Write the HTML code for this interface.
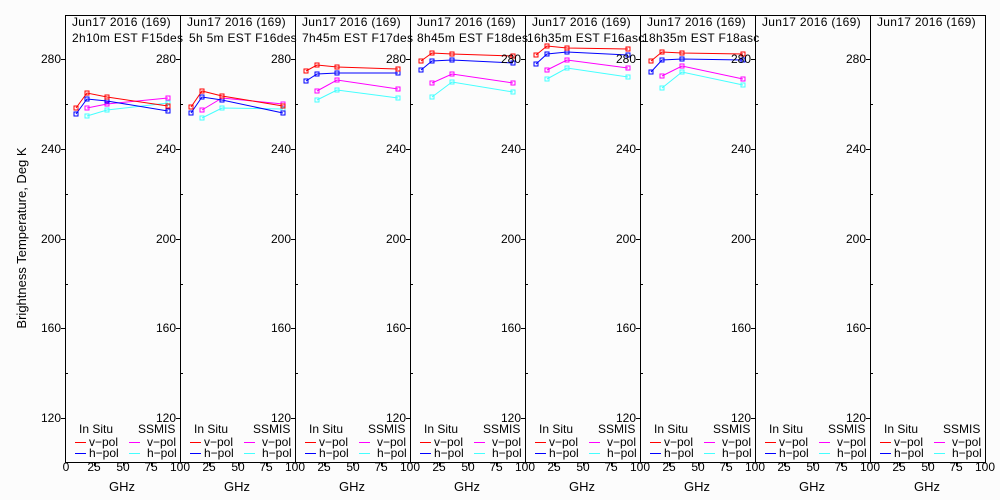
<!DOCTYPE html>
<html><head><meta charset="utf-8"><style>
body{margin:0;background:#fcfcfc;}
svg{display:block;font-family:"Liberation Sans",sans-serif;font-size:12px;}
.t{letter-spacing:0.3px}
</style></head><body>
<svg id="s" width="1000" height="500" xmlns="http://www.w3.org/2000/svg">
<rect width="1000" height="500" fill="#fcfcfc"/>
<g id="g" stroke="#000" fill="none" stroke-width="1"></g>
<g fill="#000">
<text x="26" y="238" transform="rotate(-90 26 238)" text-anchor="middle" font-size="13">Brightness Temperature, Deg K</text>
<g text-anchor="end">
<text x="61" y="63">280</text><text x="61" y="153">240</text><text x="61" y="243">200</text><text x="61" y="332">160</text><text x="61" y="422">120</text>
<text x="176" y="63">280</text><text x="176" y="153">240</text><text x="176" y="243">200</text><text x="176" y="332">160</text><text x="176" y="422">120</text>
<text x="291" y="63">280</text><text x="291" y="153">240</text><text x="291" y="243">200</text><text x="291" y="332">160</text><text x="291" y="422">120</text>
<text x="406" y="63">280</text><text x="406" y="153">240</text><text x="406" y="243">200</text><text x="406" y="332">160</text><text x="406" y="422">120</text>
<text x="521" y="63">280</text><text x="521" y="153">240</text><text x="521" y="243">200</text><text x="521" y="332">160</text><text x="521" y="422">120</text>
<text x="636" y="63">280</text><text x="636" y="153">240</text><text x="636" y="243">200</text><text x="636" y="332">160</text><text x="636" y="422">120</text>
<text x="751" y="63">280</text><text x="751" y="153">240</text><text x="751" y="243">200</text><text x="751" y="332">160</text><text x="751" y="422">120</text>
<text x="866" y="63">280</text><text x="866" y="153">240</text><text x="866" y="243">200</text><text x="866" y="332">160</text><text x="866" y="422">120</text>
</g>
<g class="t">
<text x="72" y="26">Jun17 2016 (169)</text><text x="72" y="42">2h10m  EST  F15des</text>
<text x="187" y="26">Jun17 2016 (169)</text><text x="189" y="42">5h 5m  EST  F16des</text>
<text x="302" y="26">Jun17 2016 (169)</text><text x="302" y="42">7h45m  EST  F17des</text>
<text x="417" y="26">Jun17 2016 (169)</text><text x="417" y="42">8h45m  EST  F18des</text>
<text x="532" y="26">Jun17 2016 (169)</text><text x="527" y="42">16h35m  EST  F16asc</text>
<text x="647" y="26">Jun17 2016 (169)</text><text x="642" y="42">18h35m  EST  F18asc</text>
<text x="762" y="26">Jun17 2016 (169)</text>
<text x="877" y="26">Jun17 2016 (169)</text>
</g>
<g text-anchor="middle">
<text x="66" y="471">0</text>
<text x="94" y="471">25</text><text x="123" y="471">50</text><text x="151" y="471">75</text><text x="180" y="471">100</text>
<text x="209" y="471">25</text><text x="238" y="471">50</text><text x="266" y="471">75</text><text x="295" y="471">100</text>
<text x="324" y="471">25</text><text x="353" y="471">50</text><text x="381" y="471">75</text><text x="410" y="471">100</text>
<text x="439" y="471">25</text><text x="468" y="471">50</text><text x="496" y="471">75</text><text x="525" y="471">100</text>
<text x="554" y="471">25</text><text x="583" y="471">50</text><text x="611" y="471">75</text><text x="640" y="471">100</text>
<text x="669" y="471">25</text><text x="698" y="471">50</text><text x="726" y="471">75</text><text x="755" y="471">100</text>
<text x="784" y="471">25</text><text x="813" y="471">50</text><text x="841" y="471">75</text><text x="870" y="471">100</text>
<text x="899" y="471">25</text><text x="928" y="471">50</text><text x="956" y="471">75</text><text x="985" y="471">100</text>
<g font-size="13">
<text x="122" y="491">GHz</text><text x="237" y="491">GHz</text><text x="352" y="491">GHz</text><text x="467" y="491">GHz</text>
<text x="582" y="491">GHz</text><text x="697" y="491">GHz</text><text x="812" y="491">GHz</text><text x="927" y="491">GHz</text>
</g>
</g>
<g>
<g transform="translate(65,0)"><text x="14" y="433">In Situ</text><text x="73" y="433">SSMIS</text><text x="24" y="446">v−pol</text><text x="24" y="457">h−pol</text><text x="82" y="446">v−pol</text><text x="82" y="457">h−pol</text></g>
<g transform="translate(180,0)"><text x="14" y="433">In Situ</text><text x="73" y="433">SSMIS</text><text x="24" y="446">v−pol</text><text x="24" y="457">h−pol</text><text x="82" y="446">v−pol</text><text x="82" y="457">h−pol</text></g>
<g transform="translate(295,0)"><text x="14" y="433">In Situ</text><text x="73" y="433">SSMIS</text><text x="24" y="446">v−pol</text><text x="24" y="457">h−pol</text><text x="82" y="446">v−pol</text><text x="82" y="457">h−pol</text></g>
<g transform="translate(410,0)"><text x="14" y="433">In Situ</text><text x="73" y="433">SSMIS</text><text x="24" y="446">v−pol</text><text x="24" y="457">h−pol</text><text x="82" y="446">v−pol</text><text x="82" y="457">h−pol</text></g>
<g transform="translate(525,0)"><text x="14" y="433">In Situ</text><text x="73" y="433">SSMIS</text><text x="24" y="446">v−pol</text><text x="24" y="457">h−pol</text><text x="82" y="446">v−pol</text><text x="82" y="457">h−pol</text></g>
<g transform="translate(640,0)"><text x="14" y="433">In Situ</text><text x="73" y="433">SSMIS</text><text x="24" y="446">v−pol</text><text x="24" y="457">h−pol</text><text x="82" y="446">v−pol</text><text x="82" y="457">h−pol</text></g>
<g transform="translate(755,0)"><text x="14" y="433">In Situ</text><text x="73" y="433">SSMIS</text><text x="24" y="446">v−pol</text><text x="24" y="457">h−pol</text><text x="82" y="446">v−pol</text><text x="82" y="457">h−pol</text></g>
<g transform="translate(870,0)"><text x="14" y="433">In Situ</text><text x="73" y="433">SSMIS</text><text x="24" y="446">v−pol</text><text x="24" y="457">h−pol</text><text x="82" y="446">v−pol</text><text x="82" y="457">h−pol</text></g>
</g>
</g>
</svg>
<script>
var g=document.getElementById('g'),NS='http://www.w3.org/2000/svg';
function el(t,a){var e=document.createElementNS(NS,t);for(var k in a)e.setAttribute(k,a[k]);g.appendChild(e);return e;}
el('rect',{x:65.5,y:15.5,width:920,height:447});
var yt=[59,149,239,328,418],ym=[104,194,284,373];
for(var i=0;i<8;i++){var L=65+115*i;
 if(i>0)el('line',{x1:L+.5,y1:15,x2:L+.5,y2:463});
 yt.forEach(function(y){el('line',{x1:L-4,y1:y+.5,x2:L,y2:y+.5});});
 ym.forEach(function(y){el('line',{x1:L,y1:y+.5,x2:L+3,y2:y+.5});});
 [29,58,86].forEach(function(o){el('line',{x1:L+o+.5,y1:462,x2:L+o+.5,y2:466});});
 [[442,'#f00',10],[453,'#00f',10],[442,'#f0f',64],[453,'#4ff',64]].forEach(function(r){el('line',{x1:L+r[2],y1:r[0]+.5,x2:L+r[2]+11,y2:r[0]+.5,stroke:r[1]});});
}
var xs=[11,22,42,103],xs2=[22,42,103];
var D=[
 [[108,93,97,106],[114,99,101,111],[108,104,98],[116,110,103]],
 [[107,91,96,106],[113,97,100,113],[110,98,104],[118,108,109]],
 [[71,65,67,69],[81,74,73,73],[91,80,89],[100,90,98]],
 [[61,53,54,56],[70,61,60,63],[83,74,83],[97,82,92]],
 [[55,46,48,49],[64,54,52,55],[70,60,68],[79,68,77]],
 [[61,52,53,54],[72,60,59,60],[76,66,79],[88,72,85]]];
var C=['#f00','#00f','#f0f','#4ff'],order=[3,2,1,0];
D.forEach(function(p,i){var L=65+115*i;
 order.forEach(function(s){var ys=p[s],xx=s<2?xs:xs2;
  var pts=ys.map(function(y,j){return (L+xx[j])+','+y;}).join(' ');
  el('polyline',{points:pts,stroke:C[s]});
  ys.forEach(function(y,j){el('rect',{x:L+xx[j]-2,y:y-2,width:4,height:4,stroke:C[s],fill:'none'});});
 });
});
</script>
</body></html>
